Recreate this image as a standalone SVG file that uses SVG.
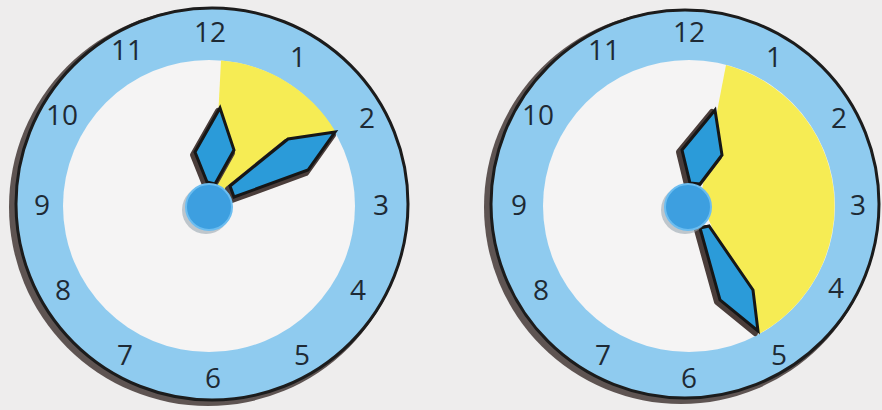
<svg xmlns="http://www.w3.org/2000/svg" width="882" height="410" viewBox="0 0 882 410">
  <defs>
    <style>
      .bg { fill: #eeeded; }
      .rim-shadow { fill: #5e5452; }
      .ring { fill: #8fcbef; stroke: #1c1c1c; stroke-width: 3; }
      .face { fill: #f5f4f4; }
      .sector { fill: #f6ec54; }
      .hand-shadow { fill: #4a3d3a; stroke: #4a3d3a; stroke-width: 6; stroke-linejoin: round; }
      .hand { fill: #2b9bd9; stroke: #161616; stroke-width: 3; stroke-linejoin: miter; }
      .hub-shadow { fill: #9aa6b0; opacity: 0.6; }
      .hub { fill: #3d9fe0; stroke: #6cbdf0; stroke-width: 2; }
      .num { font-family: "Open Sans", "Liberation Sans", sans-serif; font-size: 28px; fill: #1e2a35; text-anchor: middle; }
    </style>
  </defs>
  <rect class="bg" x="0" y="0" width="882" height="410"/>

  <g id="clock-left">
    <circle class="rim-shadow" cx="208" cy="207" r="199"/>
    <circle class="ring" cx="212" cy="204" r="196"/>
    <circle class="face" cx="209" cy="206" r="146"/>
    <path class="sector" d="M 214 196 L 221 60.5 A 146 146 0 0 1 335 131 Z"/>
    <polygon class="hand-shadow" points="207,182 195,152 220,108 234,150 215,184" transform="translate(-2,3)"/>
    <polygon class="hand" points="207,182 195,152 220,108 234,150 215,184"/>
    <polygon class="hand-shadow" points="230,186 288,139 335,132 308,170 234,197" transform="translate(-2,3)"/>
    <polygon class="hand" points="230,186 288,139 335,132 308,170 234,197"/>
    <circle class="hub-shadow" cx="206" cy="210" r="24"/>
    <circle class="hub" cx="209" cy="207" r="23"/>
    <g class="labels">
      <text class="num" x="210" y="42">12</text>
      <text class="num" x="298" y="67">1</text>
      <text class="num" x="367" y="128">2</text>
      <text class="num" x="381" y="215">3</text>
      <text class="num" x="358" y="300">4</text>
      <text class="num" x="302" y="365">5</text>
      <text class="num" x="213" y="388">6</text>
      <text class="num" x="125" y="365">7</text>
      <text class="num" x="63" y="300">8</text>
      <text class="num" x="42" y="215">9</text>
      <text class="num" x="62" y="125">10</text>
      <text class="num" x="127" y="60">11</text>
    </g>
  </g>

  <g id="clock-right">
    <circle class="rim-shadow" cx="681" cy="207" r="197"/>
    <circle class="ring" cx="685" cy="204" r="194"/>
    <circle class="face" cx="689" cy="206" r="146"/>
    <path class="sector" d="M 700 200 L 726 65 A 146 146 0 0 1 759 334 Z"/>
    <polygon class="hand-shadow" points="690,183 682,150 715,110 722,155 700,184" transform="translate(-3,2)"/>
    <polygon class="hand" points="690,183 682,150 715,110 722,155 700,184"/>
    <polygon class="hand-shadow" points="700,228 720,300 758,331 753,290 709,226" transform="translate(-3,2)"/>
    <polygon class="hand" points="700,228 720,300 758,331 753,290 709,226"/>
    <circle class="hub-shadow" cx="685" cy="210" r="24"/>
    <circle class="hub" cx="688" cy="207" r="23"/>
    <g class="labels">
      <text class="num" x="689" y="42">12</text>
      <text class="num" x="774" y="67">1</text>
      <text class="num" x="839" y="128">2</text>
      <text class="num" x="858" y="215">3</text>
      <text class="num" x="836" y="298">4</text>
      <text class="num" x="779" y="365">5</text>
      <text class="num" x="689" y="388">6</text>
      <text class="num" x="603" y="365">7</text>
      <text class="num" x="541" y="300">8</text>
      <text class="num" x="519" y="215">9</text>
      <text class="num" x="538" y="125">10</text>
      <text class="num" x="604" y="60">11</text>
    </g>
  </g>
</svg>
